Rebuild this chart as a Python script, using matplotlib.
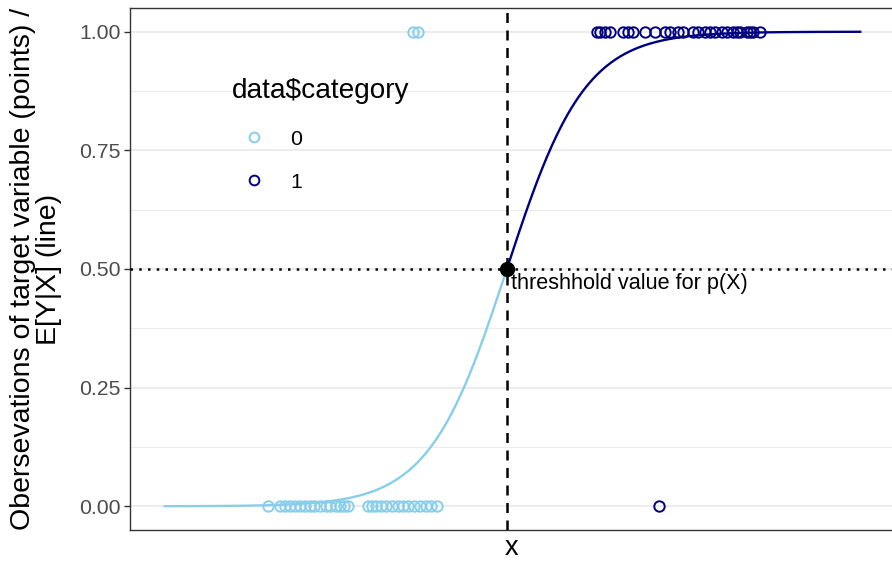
import numpy as np
import matplotlib
matplotlib.use("Agg")
import matplotlib.pyplot as plt
from matplotlib.patches import Rectangle

plt.rcParams['font.family'] = ['Liberation Sans', 'DejaVu Sans']

# logistic curve range (x units), threshold at x = 0
x_min, x_max = -8.75, 9.04
threshold_x = 0.0

# observations, category 0
cat0_x_at0 = [-6.11, -5.81, -5.68, -5.55, -5.42, -5.30, -5.17, -5.04, -4.92,
              -4.79, -4.63, -4.53, -4.38, -4.28, -4.17, -4.07,
              -3.56, -3.46, -3.35, -3.23, -3.10, -2.94, -2.79, -2.66,
              -2.53, -2.38, -2.23, -2.07, -1.95, -1.79]
cat0_x_at1 = [-2.41, -2.28]

# observations, category 1
cat1_x_at1 = [2.30, 2.38, 2.51, 2.64, 2.97, 3.10, 3.23, 3.53, 3.79, 4.04,
              4.17, 4.38, 4.51, 4.76, 4.89, 5.07, 5.20, 5.32, 5.50, 5.63,
              5.79, 5.89, 5.96, 6.14, 6.22, 6.30, 6.48]
cat1_x_at0 = [3.89]

legend_title = 'data$category'
legend_labels = ['0', '1']

col0 = '#87CEEB'
col1 = '#000080'

W, H = 892, 561
ax_l, ax_r, ax_t, ax_b = 130, 895, 8, 530


def ax_x(px):
    return (px - ax_l) / (ax_r - ax_l)


def ax_y(py):
    return (ax_b - py) / (ax_b - ax_t)


fig = plt.figure(figsize=(W / 100, H / 100), dpi=100)
ax = fig.add_axes([ax_l / W, (H - ax_b) / H, (ax_r - ax_l) / W, (ax_b - ax_t) / H])

span = x_max - x_min
ax.set_xlim(x_min - 0.05 * span, x_max + 0.05 * span)
ax.set_ylim(-0.05, 1.05)

# grid
ax.set_yticks([0, 0.25, 0.5, 0.75, 1.0])
ax.set_yticks([0.125, 0.375, 0.625, 0.875], minor=True)
ax.set_yticklabels(['0.00', '0.25', '0.50', '0.75', '1.00'])
ax.grid(axis='y', which='major', color='#EBEBEB', lw=1.3, zorder=0)
ax.grid(axis='y', which='minor', color='#EBEBEB', lw=0.7, zorder=0)
ax.set_axisbelow(True)
ax.set_xticks([])
ax.tick_params(axis='y', which='major', length=4, width=1, color='#333333',
               labelsize=15.3, labelcolor='#4D4D4D', pad=3)
ax.tick_params(axis='y', which='minor', length=0)

for s in ['left', 'bottom', 'top']:
    ax.spines[s].set_color('#333333')
    ax.spines[s].set_linewidth(1.0)
ax.spines['right'].set_visible(False)

# legend background box
ax.add_patch(Rectangle((ax_x(218), ax_y(232)), ax_x(423) - ax_x(218),
                       ax_y(48) - ax_y(232), transform=ax.transAxes,
                       facecolor='white', edgecolor='none', zorder=0.5))

# curve
xs_lo = np.linspace(x_min, threshold_x, 300)
xs_hi = np.linspace(threshold_x, x_max, 300)
ax.plot(xs_lo, 1 / (1 + np.exp(-xs_lo)), color=col0, lw=1.7, zorder=2)
ax.plot(xs_hi, 1 / (1 + np.exp(-xs_hi)), color=col1, lw=1.7, zorder=2)

# points
mk = dict(marker='o', linestyle='none', markersize=7.5, markeredgewidth=1.4,
          markerfacecolor='none', zorder=3)
ax.plot(cat0_x_at0, [0] * len(cat0_x_at0), color=col0, **mk)
ax.plot(cat0_x_at1, [1] * len(cat0_x_at1), color=col0, **mk)
ax.plot(cat1_x_at1, [1] * len(cat1_x_at1), color=col1, **mk)
ax.plot(cat1_x_at0, [0] * len(cat1_x_at0), color=col1, **mk)

# threshold lines
ax.axvline(threshold_x, color='black', lw=1.8, linestyle=(0, (4, 3)), zorder=4)
ax.axhline(0.5, color='black', lw=1.8, linestyle=(0, (1, 2.5)), zorder=4)
ax.plot([threshold_x], [0.5], marker='o', color='black', markersize=10, zorder=5)
ax.annotate('threshhold value for p(X)', xy=(threshold_x, 0.5),
            xytext=(3, -3), textcoords='offset points', ha='left', va='top',
            fontsize=15.6, color='black', zorder=5)

# legend (drawn by hand in axes coordinates)
ax.text(ax_x(232), ax_y(98), legend_title, transform=ax.transAxes,
        fontsize=20.2, ha='left', va='baseline', zorder=6)
for lab, c, ky, by in zip(legend_labels, (col0, col1), (137, 180), (145, 188)):
    ax.plot([ax_x(254)], [ax_y(ky)], transform=ax.transAxes, marker='o',
            linestyle='none', markersize=7, markeredgewidth=1.4,
            markerfacecolor='none', color=c, zorder=6, clip_on=False)
    ax.text(ax_x(290), ax_y(by), lab, transform=ax.transAxes,
            fontsize=15.3, ha='left', va='baseline', zorder=6)

fig.text(511 / W, 1 - 555 / H, 'x', fontsize=19.5, ha='center', va='baseline')
fig.text(36 / W, 1 - ((ax_t + ax_b) / 2) / H,
         'Obersevations of target variable (points) /\nE[Y|X] (line)',
         fontsize=20.5, rotation=90, ha='center', va='center',
         multialignment='center', linespacing=1.0)

fig.savefig('out.png', dpi=100)
